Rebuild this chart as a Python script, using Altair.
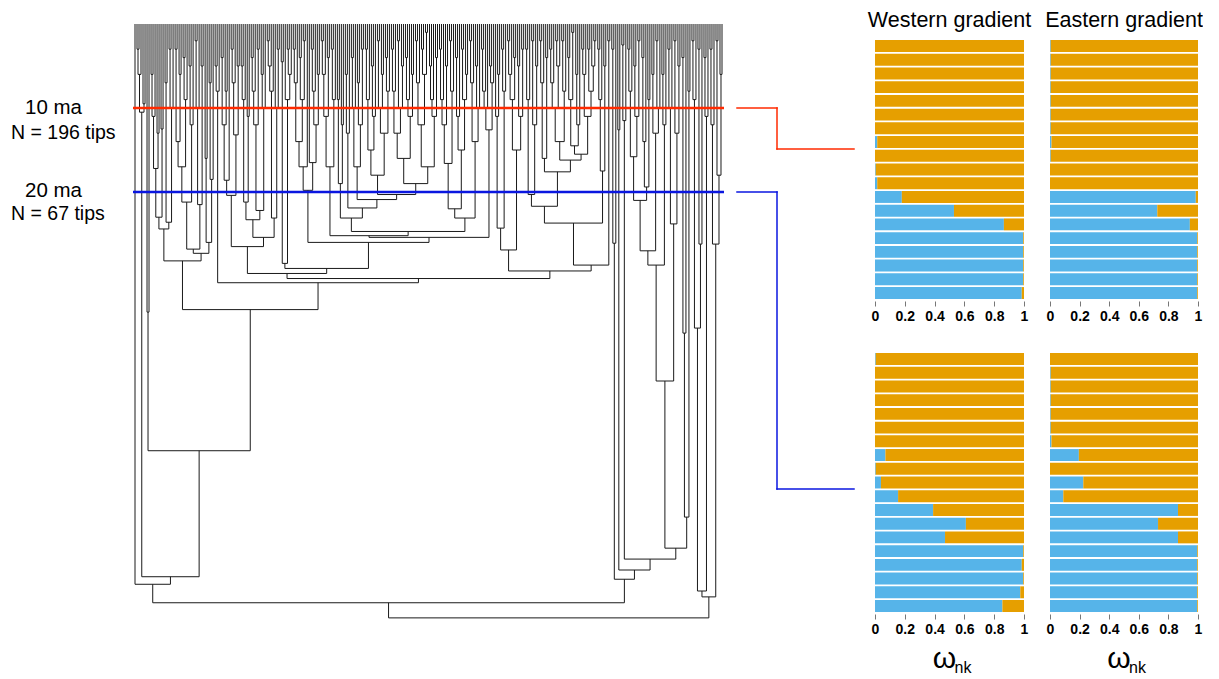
import altair as alt
import pandas as pd

# ---------------- bar panel data (share of the blue cluster per row) ----------------
rows = list(range(1, 20))
west_10 = [0, 0, 0, 0, 0, 0, 0, 0.015, 0, 0.005, 0.015, 0.18, 0.53, 0.865, 0.995, 0.995, 0.995, 0.995, 0.985]
east_10 = [0.005, 0.005, 0.005, 0.005, 0.005, 0.005, 0.005, 0.01, 0.005, 0, 0, 0.985, 0.725, 0.945, 0.995, 0.995, 0.995, 0.995, 0.995]
west_20 = [0.005, 0, 0, 0, 0, 0, 0, 0.07, 0.005, 0.04, 0.155, 0.39, 0.61, 0.47, 0.995, 0.985, 0.995, 0.975, 0.855]
east_20 = [0, 0.005, 0.005, 0.005, 0.005, 0.005, 0.01, 0.195, 0, 0.225, 0.09, 0.865, 0.73, 0.865, 0.995, 0.995, 0.995, 0.995, 0.995]
panel_titles = ["Western gradient", "Eastern gradient"]
x_ticks = [0, 0.2, 0.4, 0.6, 0.8, 1]

# ---------------- time slices ----------------
slice_age = [10, 20]
slice_label = ["10 ma", "20 ma"]
slice_tips = ["N = 196 tips", "N = 67 tips"]

# ---------------- phylogeny (node ages in ma, "t" = extant tip) ----------------
L0 = "t"
L1 = "(((t,t)3,t)6,(t,t)9.5)10.5"
C1 = "(t,t)34.3"
n17_2 = "(((t,t)6,t)11,(t,t)13)17.2"
n23_6 = "((t,t)7,((t,t)3,t)10)23.6"
n21_2 = "((((t,t)3,(t,t)6)14,((t,t)4,t)9)17,((t,t)5,t)12)21.2"
n21_5 = "(((t,t)2,t)10,(t,t)5)21.5"
n26_0a = "((t,t)16,((t,t)7,t)18.5)26"
B2_left = "((t,t)5,t)8"
n20_4 = "((((t,t)4,(t,t)8)12,t)18.6,(((t,t)3,t)7,(t,t)5)13.2)20.4"
n23_3 = "((((t,t)5,t)9,(t,t)11)21.2,((((t,t)4,t)8,(t,t)3)12,((t,t)6,t)10)22.2)23.3"
n23_1a = "((((t,t)2,t)5,t)8,(t,(t,t)3)10)23.1"
n28_5 = "((t,t)4.5,(t,((t,t)3,t)6)9)28.5"
n19_8 = "(((((t,t)3,t)7,((t,t)4,(t,t)2)9)14,t)17,(t,(((t,t)3,t)8,(t,t)6)12)16.5)19.8"
x511 = "((((t,t)2,t)6,(t,t)4)11,((t,t)3,t)9)17"
x538 = "((t,t)9,(t,t)12)19"
x555 = "((t,t)6,t)13"
x600 = "(((t,t)4,t)10,((t,t)7,(t,t)3)12)17"
x650 = "((((t,t)3,t)9,((t,t)5,t)11)15,(((t,t)2,(t,t)6)10,((t,t)4,t)8)13)18"
x755 = ("(((((t,t)3,t)8,((t,t)2,(t,t)5)10)13,(((t,t)4,t)9,(t,t)6)11)16,"
        "((((t,t)2,t)7,((t,t)3,(t,t)1)6)12,(((t,t)5,t)9,(t,t)4)11)17)19")
x830 = "((((t,t)3,t)9,(t,t)5)12,((t,t)2,t)8)16.6"
x890b = "(((t,t)4,t)11,((t,t)3,(t,t)6)9)15"
x918 = "(((t,t)2,t)7,((t,t)5,t)10)14"
lin490 = "((((t,t)3,t)8,t)10,((t,t)5,t)7)12.6"
x960 = "((t,(t,t)6)11,((t,t)3,t)8)24.3"
x986 = "((((t,t)2,t)6,(t,t)4)9,((t,t)5,(t,t)3)11)15"
x1013 = "(((t,t)3,t)9,((t,t)2,(t,t)5)12)20.3"
x1047 = "(((t,t)2,t)7,(t,t)4)16"
x1104 = ("(((((t,t)3,t)7,((t,t)2,t)5)10,((t,t)2,t)8)14,((((t,t)4,(t,t)1)9,((t,t)6,t)12)14.5,"
         "(((t,t)3,t)6,((t,t)3,(t,(t,t)2)5)8)11)15.5)16.2")
lin608 = "(((t,t)3,t)9,(t,t)5)17.5"
n26_2a = "(t,t)2"
a2_l = "((t,t)3,t)26.1"
a2_m = "(t,t)12.6"
a2_r = "((t,t)2.5,t)11.5"
n27_0 = "(((((t,t)3,t)8,((t,t)5,(t,t)2)11)15.8,(((t,t)4,t)14,(t,t)9)19.4)21,((t,t)6,((t,t)2,t)10)13)27"
lin664 = "((t,t)6,t)12"
n23_8 = "(((t,t)3,t)10,((t,t)2,(t,t)5)13)23.8"
n58_7 = "(((t,t)4,t)36.8,(t,t)8)58.7"
n36_2 = "(((t,t)2,t)9,((t,t)3,t)26.2)36.2"
lin700 = "((t,t)4,t)11"
n26_2b = "(((t,t)3,t)12,((t,t)2,(t,t)6)18)26.2"

B1a = f"(({n17_2},(t,t)12.5)23,{n23_6})24.4"
B1b = f"(({n21_2},{n21_5})26.8,{n26_0a})27.3"
B1 = f"({B1a},{B1b})28.2"
B4a = f"({n20_4},({n23_3},{n23_1a})25.4)26.5"
x700 = f"({x650},{x755})20.3"
x571 = f"({x538},({x555},({x600},{x700})20.9)21.9)23.1"
x890 = f"(({x830},{x890b})22,{x918})23.1"
n25_4b = f"(({x511},({x571},{x890})24.7)25.2,{lin490})25.4"
B4 = f"({B4a},({n28_5},({n19_8},{n25_4b})26)29.1)29.7"
n21_7 = f"({x1013},({x1047},{x1104})17.6)21.7"
B5 = f"(({x960},{x986})26.9,(({n21_7},{lin608})23.7,{n26_2a})28.7)29.4"
A1 = f"({L0},({L1},({C1},({B1},({B2_left},({B4},{B5})30.3)30.8)34)50.8)65.8)66.7"
A2 = f"({a2_l},({a2_m},({a2_r},((({n27_0},{lin664})28.7,{n23_8})42.5,{n58_7})62.4)63.7)65)66.1"
B = f"(({n36_2},{lin700})67.5,{n26_2b})68.2"
TREE = f"(({A1},{A2})68.9,{B})70.7"


def parse_tree(s):
    pos = 0

    def node():
        nonlocal pos
        if s[pos] == "(":
            pos += 1
            kids = [node()]
            while s[pos] == ",":
                pos += 1
                kids.append(node())
            pos += 1  # ')'
            start = pos
            while pos < len(s) and (s[pos].isdigit() or s[pos] == "."):
                pos += 1
            return {"age": float(s[start:pos]), "kids": kids}
        pos += 1  # 't'
        return {"age": 0.0, "kids": []}

    return node()


root = parse_tree(TREE)
counter = [0]


def layout(n):
    if not n["kids"]:
        n["x"] = counter[0]
        counter[0] += 1
    else:
        for k in n["kids"]:
            layout(k)
        n["x"] = (n["kids"][0]["x"] + n["kids"][-1]["x"]) / 2


layout(root)
n_tips = counter[0]
segs = []


def collect(n):
    for k in n["kids"]:
        segs.append({"x": k["x"], "x2": k["x"], "y": k["age"], "y2": n["age"]})
        collect(k)
    if n["kids"]:
        segs.append({"x": n["kids"][0]["x"], "x2": n["kids"][-1]["x"], "y": n["age"], "y2": n["age"]})


collect(root)
seg_df = pd.DataFrame(segs)

# ---------------- tree panel geometry (pixels) ----------------
TW, TH = 860, 679
tip_left, tip_right = 135, 722
px_per_tip = (tip_right - tip_left) / (n_tips - 1)
x_dom = [-tip_left / px_per_tip, (TW - tip_left) / px_per_tip]
top_px, px_per_ma = 24, 8.4
y_dom = [-top_px / px_per_ma, (TH - top_px) / px_per_ma]

xs = alt.Scale(domain=x_dom, nice=False, zero=False)
ys = alt.Scale(domain=y_dom, nice=False, zero=False, reverse=True)

tree = alt.Chart(seg_df).mark_rule(color="#1a1a1a", strokeWidth=1).encode(
    x=alt.X("x:Q", scale=xs, axis=None),
    x2="x2:Q",
    y=alt.Y("y:Q", scale=ys, axis=None),
    y2="y2:Q",
)

slice_colors = ["#ff2a00", "#0a16e0"]
target_px = [149, 489]
layers = [tree]
for age, col, ty in zip(slice_age, slice_colors, target_px):
    d = pd.DataFrame({"age": [age]})
    layers.append(alt.Chart(d).mark_rule(color=col, strokeWidth=2.6).encode(
        x=alt.value(133), x2=alt.value(724), y=alt.Y("age:Q", scale=ys, axis=None)))
    layers.append(alt.Chart(d).mark_rule(color=col, strokeWidth=1.5, strokeCap="square").encode(
        x=alt.value(737), x2=alt.value(777), y=alt.Y("age:Q", scale=ys, axis=None)))
    layers.append(alt.Chart(d).mark_rule(color=col, strokeWidth=1.5, strokeCap="square").encode(
        x=alt.value(777), y=alt.Y("age:Q", scale=ys, axis=None), y2=alt.value(ty)))
    layers.append(alt.Chart(d).mark_rule(color=col, strokeWidth=1.5, strokeCap="square").encode(
        x=alt.value(777), x2=alt.value(854), y=alt.value(ty)))

lab_pos = [(25, 114, 139), (25, 197, 220)]
for lab, tips_lab, (lx, ly, ty) in zip(slice_label, slice_tips, lab_pos):
    layers.append(alt.Chart(pd.DataFrame({"t": [lab]})).mark_text(
        font="Liberation Sans", fontSize=20.5, align="left", baseline="alphabetic", color="black").encode(
        text="t:N", x=alt.value(lx), y=alt.value(ly)))
    layers.append(alt.Chart(pd.DataFrame({"t": [tips_lab]})).mark_text(
        font="Liberation Sans", fontSize=19.5, align="left", baseline="alphabetic", color="black").encode(
        text="t:N", x=alt.value(11), y=alt.value(ty)))

tree_chart = alt.layer(*layers).properties(width=TW, height=TH)

# ---------------- bar panels ----------------
BLUE, ORANGE = "#56B4E9", "#E69F00"
PI = 0.13
BAR_H = 259
HEAD = 40


def panel(vals, width, title=None, omega=False):
    df = pd.DataFrame({"row": rows * 2,
                       "cluster": ["blue"] * 19 + ["orange"] * 19,
                       "k": [0] * 19 + [1] * 19,
                       "w": list(vals) + [1 - v for v in vals]})
    if title:
        yscale = alt.Scale(paddingInner=PI, paddingOuter=0, range=[HEAD, HEAD + BAR_H])
        height = BAR_H + HEAD
    else:
        yscale = alt.Scale(paddingInner=PI, paddingOuter=0)
        height = BAR_H
    bars = alt.Chart(df).mark_bar().encode(
        y=alt.Y("row:O", axis=None, scale=yscale),
        x=alt.X("w:Q", stack="zero",
                scale=alt.Scale(domain=[0, 1], nice=False),
                axis=alt.Axis(values=x_ticks, format="~g", title=None, grid=False, domain=False,
                              tickSize=5, tickColor="#777", offset=2, labelPadding=3,
                              labelFlush=False, labelFont="Liberation Sans", labelFontSize=14,
                              labelFontWeight="bold", labelColor="black")),
        color=alt.Color("cluster:N", scale=alt.Scale(domain=["blue", "orange"], range=[BLUE, ORANGE]),
                        legend=None),
        order=alt.Order("k:Q"),
    )
    parts = [bars]
    if title:
        parts.append(alt.Chart(pd.DataFrame({"t": [title]})).mark_text(
            font="Liberation Sans", fontSize=21.5, align="center", baseline="alphabetic", color="black").encode(
            text="t:N", x=alt.value(width / 2), y=alt.value(27)))
    if omega:
        parts.append(alt.Chart(pd.DataFrame({"t": ["ω"]})).mark_text(
            font="Liberation Sans", fontSize=30, align="center", baseline="alphabetic", color="black").encode(
            text="t:N", x=alt.value(width / 2 - 5), y=alt.value(315)))
        parts.append(alt.Chart(pd.DataFrame({"t": ["nk"]})).mark_text(
            font="Liberation Sans", fontSize=16, align="left", baseline="alphabetic", color="black").encode(
            text="t:N", x=alt.value(width / 2 + 5), y=alt.value(320)))
    return alt.layer(*parts).properties(width=width, height=height)


widths = [149, 148]
grid = alt.concat(
    panel(west_10, widths[0], title=panel_titles[0]),
    panel(east_10, widths[1], title=panel_titles[1]),
    panel(west_20, widths[0], omega=True),
    panel(east_20, widths[1], omega=True),
    columns=2, spacing={"row": 54, "column": 26}, bounds="flush",
)

chart = alt.hconcat(tree_chart, grid, spacing=15, bounds="flush").properties(
    padding=0, background="white"
).configure_view(stroke=None)

chart.save("out.html", embed_options={"renderer": "svg", "actions": False})
